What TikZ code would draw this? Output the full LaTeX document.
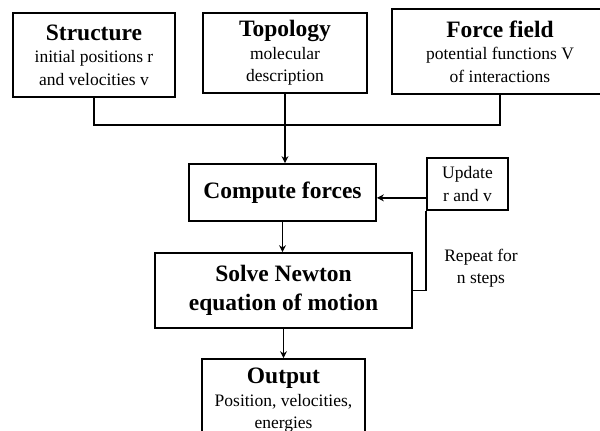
\documentclass[tikz,border=0pt]{standalone}
\usepackage{fontspec}
\setmainfont{Liberation Serif}
\usetikzlibrary{arrows.meta}
\newcommand\ttlfont{\fontsize{23.5}{29}\selectfont\bfseries}
\newcommand\subfont{\fontsize{17.5}{22.5}\selectfont}
\begin{document}
\begin{tikzpicture}[x=1pt,y=1pt,
  box/.style={draw, line width=1.7pt, align=center, inner sep=0pt},
  conn/.style={line width=1.6pt},
  arr/.style={conn, -{Stealth[length=7pt,width=7pt]}}]
\useasboundingbox (0,0) rectangle (600,-431);
\node[box, minimum width=162, minimum height=84, font=\subfont] (structure) at (94,-55)
  {{\ttlfont Structure}\\initial positions r\\and velocities v};
\node[box, minimum width=164, minimum height=80, font=\subfont] (topology) at (285,-53)
  {{\ttlfont Topology}\\molecular\\description};
\node[box, minimum width=216, minimum height=85, font=\subfont] (forcefield) at (500,-51.5)
  {{\ttlfont Force field}\\potential functions V\\of interactions};
\node[box, minimum width=187, minimum height=57, font=\ttlfont] (compute) at (282.5,-192.5)
  {Compute forces};
\node[box, minimum width=257, minimum height=75, font=\ttlfont] (solve) at (283.5,-290.5)
  {Solve Newton\\equation of motion};
\node[box, minimum width=163, minimum height=83, font=\subfont] (output) at (283.5,-400.5)
  {{\ttlfont Output}\\Position, velocities,\\energies};
\node[box, minimum width=81, minimum height=52, font=\subfont] (update) at (467.5,-184)
  {Update\\r and v};
\node[align=center, inner sep=0pt, font=\subfont] (repeat) at (481,-268)
  {Repeat for\\n steps};
\coordinate (join) at (forcefield.south |- 0,-125);
\draw[conn] (structure.south) |- (join) -- (forcefield.south);
\draw[arr] (topology.south) -- (topology.south |- compute.north);
\draw[arr] (compute.south) -- (compute.south |- solve.north);
\draw[arr] (solve.south) -- (solve.south |- output.north);
\draw[arr] ([yshift=13pt]update.south west) -- ([yshift=13pt]update.south west -| compute.east);
\draw[conn] (solve.east) -| (update.south west);
\end{tikzpicture}
\end{document}
